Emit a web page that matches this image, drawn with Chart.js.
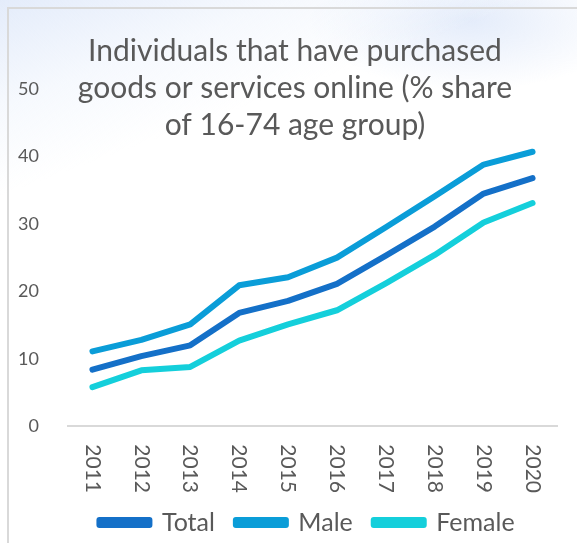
<!DOCTYPE html>
<html>
<head>
<meta charset="utf-8">
<script src="https://cdn.jsdelivr.net/npm/chart.js@4"></script>
<style>
  html, body { margin: 0; padding: 0; width: 577px; height: 543px; overflow: hidden; }
  body {
    background:
      linear-gradient(160deg, rgba(225,234,250,0.9) 0%, rgba(240,245,253,0.6) 14%, rgba(255,255,255,0) 26%),
      radial-gradient(ellipse 160px 70px at 470px 20px, rgba(225,234,250,0.9), rgba(255,255,255,0)),
      #ffffff;
  }
  #box {
    position: absolute; left: 7px; top: 7px; width: 570px; height: 536px;
    border-left: 2px solid #d9d9d9; border-top: 2px solid #d9d9d9;
  }
  canvas { display: block; }
</style>
</head>
<body>
<div id="box"><canvas id="chart" width="570" height="536"></canvas></div>
<script>
// valores
let years = ['2011', '2012', '2013', '2014', '2015', '2016', '2017', '2018', '2019', '2020'];
let total = [8.4, 10.4, 12.0, 16.8, 18.6, 21.1, 25.3, 29.6, 34.5, 36.8];
let male = [11.1, 12.8, 15.1, 20.9, 22.1, 25.0, 29.5, 34.1, 38.8, 40.7];
let female = [5.8, 8.3, 8.8, 12.7, 15.1, 17.2, 21.2, 25.4, 30.2, 33.1];
let yTicks = [0, 10, 20, 30, 40, 50];
let titleLines = ['Individuals that have purchased', 'goods or services online (% share', 'of 16-74 age group)'];

let fontName = 'Lato, "Open Sans", sans-serif';
let textColor = '#595959';

function lineSet(label, data, color) {
    return {
        label: label,
        data: data,
        borderColor: color,
        backgroundColor: color,
        borderWidth: 6,
        borderCapStyle: 'round',
        borderJoinStyle: 'round',
        pointRadius: 0,
        tension: 0
    };
}

// título encima del área del gráfico y etiquetas del eje x giradas
const overlayPlugin = {
    id: 'overlay',
    afterLayout(chart) {
        // la leyenda original está algo desplazada a la derecha
        chart.legend.left += 24;
        chart.legend.right += 24;
    },
    afterDraw(chart) {
        let ctx = chart.ctx;
        ctx.save();
        ctx.fillStyle = textColor;
        ctx.font = '30px ' + fontName;
        ctx.textAlign = 'center';
        ctx.textBaseline = 'middle';
        titleLines.forEach((line, i) => ctx.fillText(line, 286, 42 + i * 37));

        let xScale = chart.scales.x;
        ctx.font = '21px ' + fontName;
        ctx.textAlign = 'left';
        years.forEach((year, i) => {
            ctx.save();
            ctx.translate(xScale.getPixelForTick(i), chart.chartArea.bottom + 18);
            ctx.rotate(Math.PI / 2);
            ctx.fillText(year, 0, 0);
            ctx.restore();
        });
        ctx.restore();
    }
};

let ctx = document.getElementById('chart').getContext('2d');
let chart = new Chart(ctx, {
    type: 'line',
    data: {
        labels: years,
        datasets: [
            lineSet('Total', total, '#1470c8'),
            lineSet('Male', male, '#0a9dd8'),
            lineSet('Female', female, '#14cfdb')
        ]
    },
    options: {
        responsive: false,
        animation: false,
        layout: { padding: { top: 80, right: 22, left: 0, bottom: 0 } },
        plugins: {
            title: { display: false },
            tooltip: { enabled: false },
            legend: {
                position: 'bottom',
                labels: {
                    boxWidth: 50,
                    boxHeight: 5,
                    padding: 21,
                    color: textColor,
                    font: { family: fontName, size: 25 }
                }
            }
        },
        scales: {
            x: {
                offset: true,
                grid: { display: false, drawTicks: false },
                border: { display: true, color: '#d9d9d9', width: 2 },
                ticks: {
                    color: 'rgba(0,0,0,0)',
                    minRotation: 90,
                    maxRotation: 90,
                    padding: 7,
                    font: { family: fontName, size: 21 }
                }
            },
            y: {
                min: 0,
                max: 50,
                afterBuildTicks(scale) {
                    scale.ticks = yTicks.map(v => ({ value: v }));
                },
                afterFit(scale) {
                    scale.width = 59;
                },
                grid: { display: false, drawTicks: false },
                border: { display: false },
                ticks: {
                    color: textColor,
                    padding: 29,
                    font: { family: fontName, size: 18 }
                }
            }
        }
    },
    plugins: [overlayPlugin]
});
</script>
</body>
</html>
